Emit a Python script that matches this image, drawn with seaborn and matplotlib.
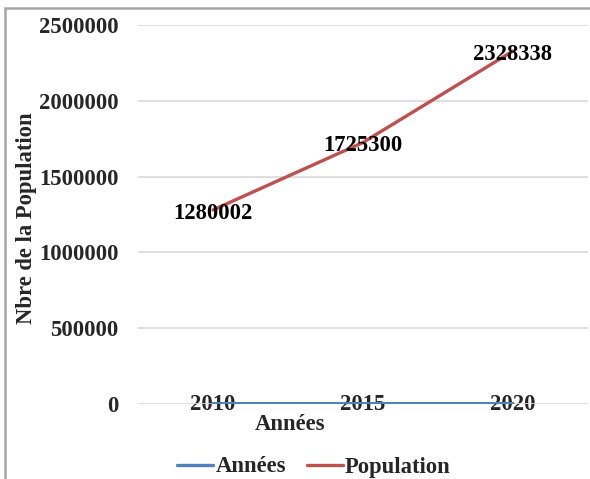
import matplotlib
matplotlib.use("Agg")
import matplotlib.pyplot as plt
import seaborn as sns
import pandas as pd
from matplotlib.patches import Rectangle
from matplotlib.lines import Line2D

# Données
annees = ["2010", "2015", "2020"]
serie_annees = [2010, 2015, 2020]
serie_population = [1280002, 1725300, 2328338]
y_ticks = [0, 500000, 1000000, 1500000, 2000000, 2500000]

df = pd.DataFrame({
    "Année": annees * 2,
    "Valeur": serie_annees + serie_population,
    "Série": ["Années"] * 3 + ["Population"] * 3,
})

sns.set_theme(style="white")
plt.rcParams["font.family"] = ["Liberation Serif", "DejaVu Serif"]
plt.rcParams["font.weight"] = "bold"

W, H = 590, 479
fig = plt.figure(figsize=(W / 100, H / 100), dpi=100)
ax = fig.add_axes([138 / W, (H - 404) / H, 450 / W, 379 / H])

palette = {"Années": "#4f81bd", "Population": "#c0504d"}
sns.lineplot(data=df, x="Année", y="Valeur", hue="Série", palette=palette,
             linewidth=2.4, ax=ax, legend=False, sort=False)

FS = 16.3
ax.set_xlim(-0.5, 2.5)
ax.set_ylim(0, 2500000)
ax.set_yticks(y_ticks)
ax.set_yticklabels([str(t) for t in y_ticks], fontsize=FS, fontweight="bold")
ax.grid(axis="y", color="#d9d9d9", linewidth=1.2)
ax.grid(axis="x", visible=False)
ax.set_axisbelow(True)
for s in ax.spines.values():
    s.set_visible(False)
ax.tick_params(axis="y", length=0, pad=14)
ax.tick_params(axis="x", length=0, pad=0)
for lbl in ax.get_xticklabels():
    lbl.set_fontsize(FS)
    lbl.set_fontweight("bold")
    lbl.set_va("center")
    lbl.set_zorder(5)

# Étiquettes de données
for i, v in enumerate(serie_population):
    ax.annotate(str(v), xy=(i, v), xytext=(0, -2.5), textcoords="offset points",
                ha="center", va="center", fontsize=FS, fontweight="bold",
                color="black", zorder=6)

ax.set_xlabel("Années", fontsize=FS, fontweight="bold")
ax.xaxis.set_label_coords(0.338, -0.026)
ax.set_ylabel("Nbre de la Population", fontsize=FS, fontweight="bold")
ax.yaxis.set_label_coords(-0.225, 0.49)

# Légende
handles = [Line2D([], [], color=palette[k], linewidth=2.4) for k in palette]
fig.legend(handles, list(palette.keys()), loc="center",
           bbox_to_anchor=(314 / W, 12 / H), ncol=2, frameon=False,
           prop={"size": FS, "weight": "bold"}, handlelength=1.6,
           handletextpad=0.1, columnspacing=0.9)

# Cadre de la figure
fig.patches.append(Rectangle((5 / W, -0.1), 1.2, (H - 8) / H + 0.1,
                             transform=fig.transFigure, fill=False,
                             edgecolor="#a6a6a6", linewidth=1.8))

fig.savefig("out.png", dpi=100)
